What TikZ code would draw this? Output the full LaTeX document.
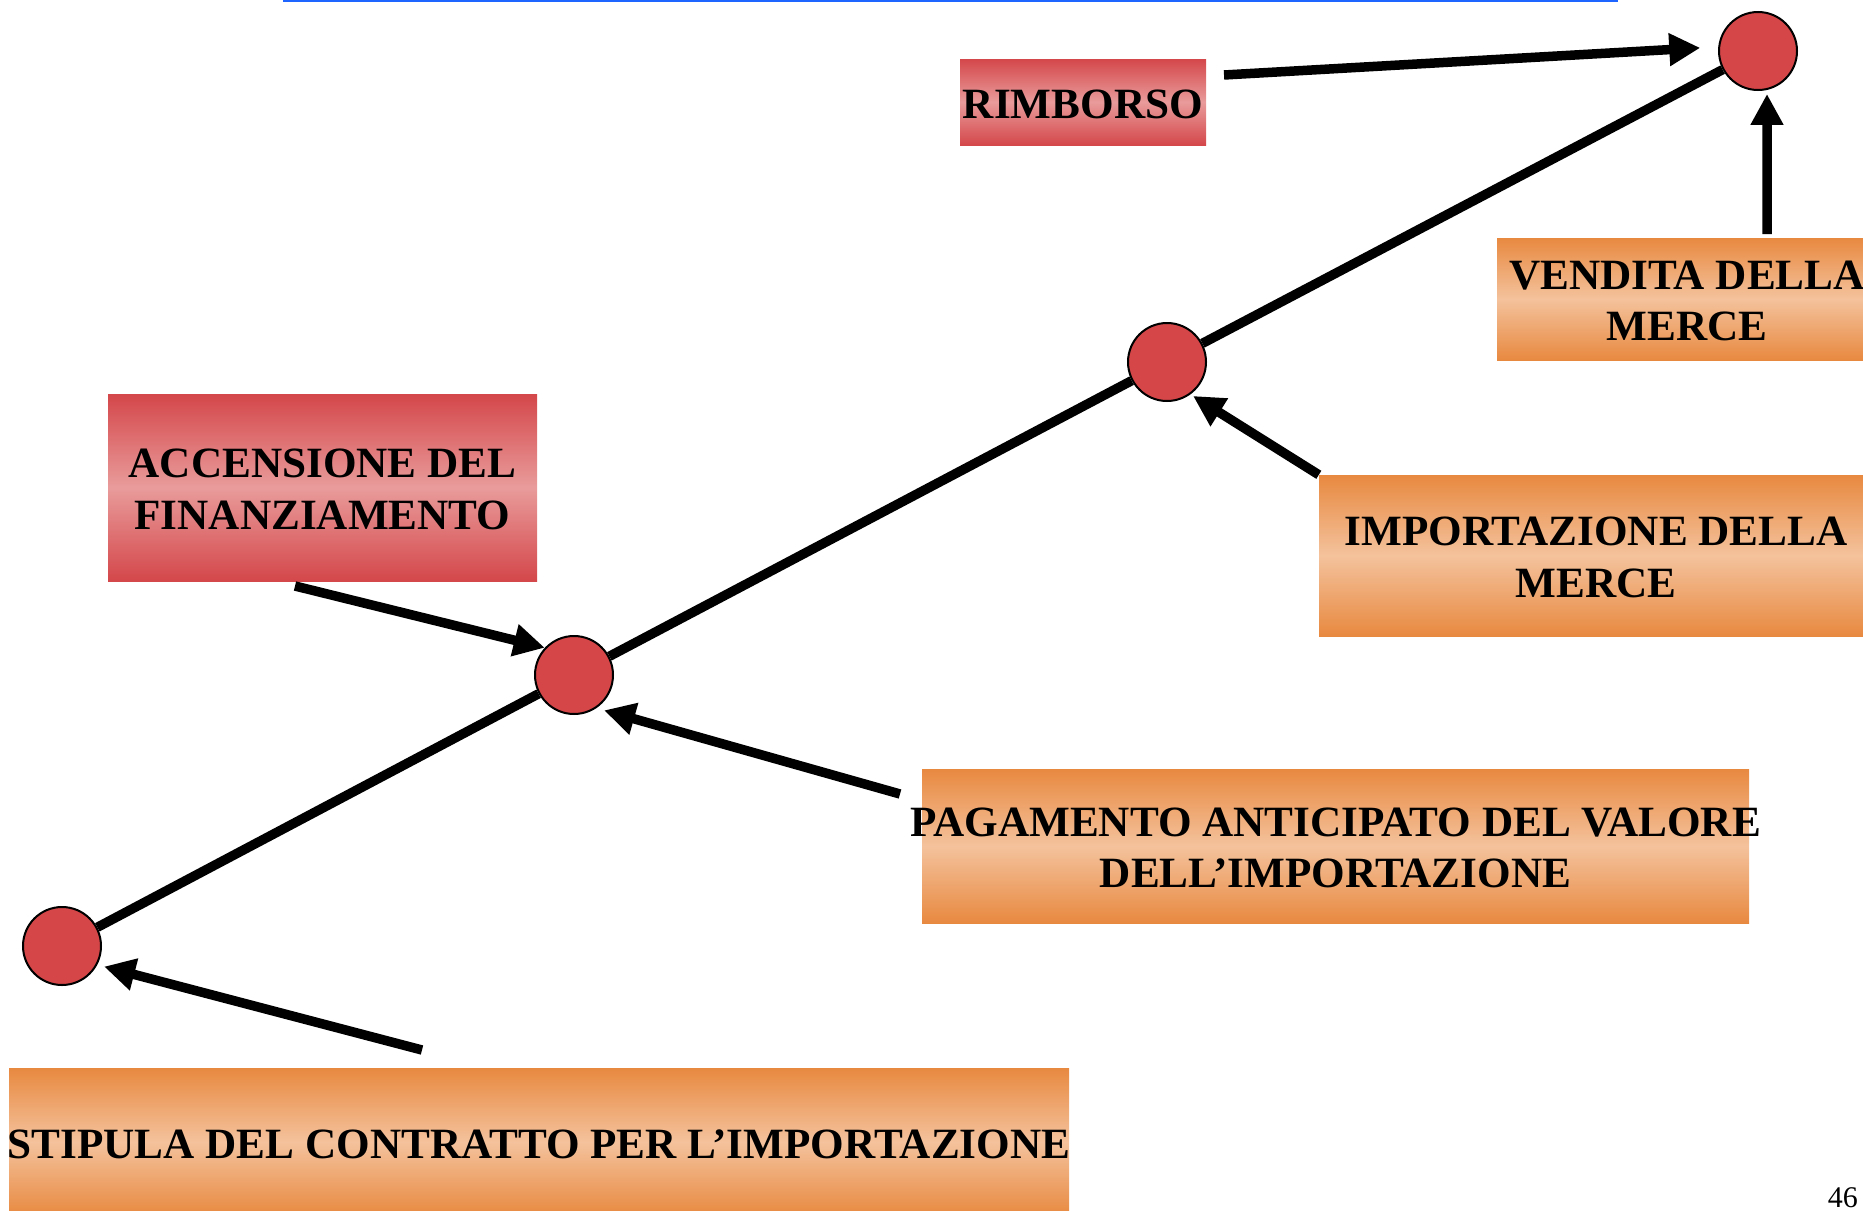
\documentclass[tikz,border=0pt]{standalone}
\usepackage{fontspec}
\setmainfont{Liberation Serif}
\usetikzlibrary{arrows.meta}
\definecolor{rosso}{RGB}{212,71,74}
\definecolor{rosa}{RGB}{233,155,155}
\definecolor{arancio}{RGB}{232,137,64}
\definecolor{pesca}{RGB}{244,194,156}
\definecolor{blu}{RGB}{30,100,255}
\definecolor{pallino}{RGB}{212,70,72}

\begin{document}
\begin{tikzpicture}[x=1pt,y=-1pt,>={Triangle[length=31pt,width=31pt]},
		tappa/.style={circle,draw,line width=2pt,fill=pallino,minimum size=78pt,inner sep=0pt},
		boxrosso/.style={rectangle,inner sep=0pt,top color=rosso,bottom color=rosso,middle color=rosa},
		boxarancio/.style={rectangle,inner sep=0pt,top color=arancio,bottom color=arancio,middle color=pesca},
		testo/.style={align=center,inner sep=0pt,yshift=-2pt,font=\bfseries\fontsize{43.2}{51.5}\selectfont},
		freccia/.style={->,line width=9.5pt}]
			%%%	Pagina
			\useasboundingbox (0,0) rectangle (1863,1210);
			\draw[blu,line width=2.5pt] (283,1) -- (1618,1);
			%%%	Tappe
			\node[tappa] (t1) at (62,946) {};
			\node[tappa] (t2) at (574,675) {};
			\node[tappa] (t3) at (1167,362) {};
			\node[tappa] (t4) at (1758,51) {};
			\draw[line width=9.5pt] (t1) -- (t2) (t2) -- (t3) (t3) -- (t4);
			%%%	Riquadri
			\node[boxrosso,minimum width=246pt,minimum height=86pt] (rimb) at (1083,102) {};
			\node[boxarancio,minimum width=380pt,minimum height=122pt] (vend) at (1687,299) {};
			\node[boxrosso,minimum width=429pt,minimum height=187pt] (acc) at (322.5,487.5) {};
			\node[boxarancio,minimum width=554pt,minimum height=161pt] (imp) at (1596,555.5) {};
			\node[boxarancio,minimum width=827pt,minimum height=154pt] (pag) at (1335.5,846) {};
			\node[boxarancio,minimum width=1060pt,minimum height=148pt] (stip) at (539,1142) {};
			%%%	Frecce
			\coordinate (c-rimb) at (1224,75);
			\coordinate (c-vend) at (1767,234);
			\coordinate (c-acc) at (295,586);
			\coordinate (c-pag) at (900,794);
			\coordinate (c-stip) at (422,1050);
			\draw[freccia,shorten >=18pt] (c-rimb) -- (t4.174);
			\draw[freccia,shorten >=4pt] (c-vend) -- (t4.-77);
			\draw[freccia] (c-acc) -- (t2.137);
			\draw[freccia,shorten >=3pt] (imp.north west) -- (t3.-54);
			\draw[freccia,shorten >=8pt] (c-pag) -- (t2.-56);
			\draw[freccia,shorten >=7pt] (c-stip) -- (t1.-28);
			%%%	Testi
			\node[testo] (rimb-t) at (rimb) {RIMBORSO};
			\node[testo] (vend-t) at (vend) {VENDITA DELLA\\MERCE};
			\node[testo] (acc-t) at (acc) {ACCENSIONE DEL\\FINANZIAMENTO};
			\node[testo] (imp-t) at (imp) {IMPORTAZIONE DELLA\\MERCE};
			\node[testo] (pag-t) at (pag) {PAGAMENTO ANTICIPATO DEL VALORE\\DELL’IMPORTAZIONE};
			\node[testo] (stip-t) at (stip) {STIPULA DEL CONTRATTO PER L’IMPORTAZIONE};
			\node[anchor=base east,inner sep=0pt,font=\fontsize{30}{36}\selectfont] (num) at (1858,1207) {46};
\end{tikzpicture}
\end{document}
